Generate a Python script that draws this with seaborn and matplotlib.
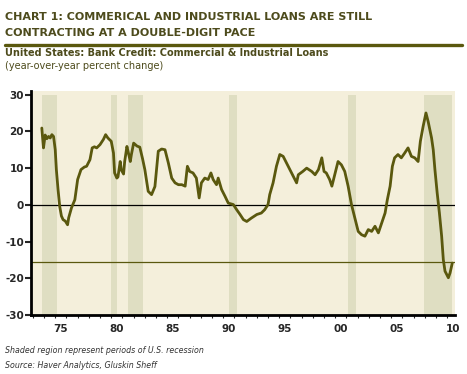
import numpy as np
import pandas as pd
import seaborn as sns
import matplotlib.pyplot as plt
from matplotlib.ticker import FixedLocator, MultipleLocator

# C&I loans, year-over-year % change
years = [1973.8, 1973.95, 1974.1, 1974.25, 1974.4, 1974.55, 1974.7, 1974.85,
         1975.0, 1975.1, 1975.25, 1975.4, 1975.55, 1975.7, 1975.9, 1976.1,
         1976.2, 1976.45, 1976.75, 1977.0, 1977.3, 1977.6, 1977.8, 1978.1,
         1978.3, 1978.5, 1978.7, 1979.0, 1979.3, 1979.5, 1979.7, 1980.0,
         1980.2, 1980.3, 1980.5, 1980.6, 1980.8, 1980.9, 1981.1, 1981.2,
         1981.4, 1981.5, 1981.7, 1981.8, 1982.0, 1982.3, 1982.55, 1982.8,
         1983.0, 1983.3, 1983.6, 1983.9, 1984.2, 1984.5, 1984.8, 1985.1,
         1985.4, 1985.7, 1986.0, 1986.3, 1986.6, 1986.8, 1987.0, 1987.3,
         1987.6, 1987.85, 1988.05, 1988.35, 1988.65, 1988.9, 1989.1, 1989.4,
         1989.55, 1989.85, 1990.15, 1990.45, 1990.9, 1991.2, 1991.5, 1991.8,
         1992.1, 1992.5, 1993.0, 1993.4, 1993.7, 1994.0, 1994.15, 1994.45,
         1994.75, 1995.05, 1995.35, 1995.8, 1996.25, 1996.55, 1996.7, 1997.1,
         1997.45, 1997.9, 1998.2, 1998.5, 1998.8, 1999.0, 1999.2, 1999.5,
         1999.7, 2000.0, 2000.25, 2000.55, 2000.85, 2001.15, 2001.45, 2001.75,
         2002.05, 2002.35, 2002.65, 2002.95, 2003.25, 2003.55, 2003.85, 2004.15,
         2004.45, 2004.65, 2004.9, 2005.1, 2005.3, 2005.6, 2005.9, 2006.2,
         2006.5, 2006.8, 2007.1, 2007.4, 2007.6, 2007.85, 2008.1, 2008.3,
         2008.6, 2008.75, 2008.9, 2009.1, 2009.3, 2009.5, 2009.65, 2009.8,
         2010.1, 2010.25, 2010.45]
yoy = [20.9, 15.5, 19.0, 18.0, 18.6, 18.2, 19.1, 18.6,
       15.0, 9.6, 4.2, -0.4, -3.0, -4.0, -4.4, -5.4,
       -3.5, -0.8, 1.4, 6.9, 9.6, 10.3, 10.5, 12.3,
       15.5, 15.8, 15.5, 16.4, 17.8, 19.1, 18.2, 17.3,
       14.1, 8.7, 7.3, 7.6, 11.8, 9.5, 8.4, 11.8,
       15.9, 14.6, 11.8, 13.7, 16.8, 16.0, 15.7, 12.5,
       9.6, 3.7, 2.8, 5.0, 14.6, 15.2, 15.0, 11.4,
       7.3, 6.0, 5.5, 5.5, 5.1, 10.5, 9.1, 8.7,
       7.3, 1.9, 6.0, 7.3, 6.9, 8.7, 6.9, 5.5,
       7.3, 4.2, 2.4, 0.5, 0.1, -1.3, -2.6, -4.0,
       -4.5, -3.6, -2.6, -2.2, -1.3, 0.1, 2.8, 6.0,
       10.5, 13.7, 13.2, 10.5, 7.8, 6.0, 8.2, 9.1,
       10.0, 9.1, 8.2, 9.6, 12.8, 9.1, 8.7, 6.9,
       5.1, 8.7, 11.8, 10.9, 9.1, 5.1, 0.1, -3.5,
       -7.2, -8.1, -8.5, -6.7, -7.2, -5.8, -7.6, -4.9,
       -2.2, 1.4, 5.1, 10.5, 12.8, 13.7, 12.8, 14.1,
       15.5, 13.2, 12.8, 11.8, 17.3, 21.4, 25.0, 22.6,
       18.2, 15.0, 9.6, 3.3, -2.2, -8.5, -14.9, -18.0,
       -19.8, -18.5, -15.8]

# U.S. recessions (start, end) in decimal years
rec_start = [1973.85, 1980.0, 1981.5, 1990.5, 2001.17, 2007.92]
rec_end = [1975.2, 1980.55, 1982.87, 1991.2, 2001.87, 2010.45]

latest_level = -15.5
tick_years = [1975, 1980, 1985, 1990, 1995, 2000, 2005, 2010]
tick_labels = ['75', '80', '85', '90', '95', '00', '05', '10']

df = pd.DataFrame({'year': years, 'yoy': yoy})

sns.set_style("ticks")
plt.rcParams['font.family'] = ['DejaVu Sans']
plt.rcParams['axes.unicode_minus'] = False

olive = '#5a580e'
title_col = '#4d4b1c'

fig = plt.figure(figsize=(4.67, 3.74), dpi=100)
fig.patch.set_facecolor('white')
ax = fig.add_axes([0.066, 0.157, 0.908, 0.600])
ax.set_facecolor('#f4efdb')

for s, e in zip(rec_start, rec_end):
    ax.fill_between([s, e], -30, 30, color='#dfdec2', lw=0, zorder=0)

ax.axhline(0, color='black', lw=0.9, zorder=1)
ax.axhline(latest_level, color=olive, lw=0.9, zorder=1)

sns.lineplot(data=df, x='year', y='yoy', ax=ax, color=olive, lw=2.0, zorder=3)

ax.set_xlim(1972.82, 2010.68)
ax.set_ylim(-30, 31)
ax.set_xlabel('')
ax.set_ylabel('')

ax.yaxis.set_major_locator(FixedLocator([-30, -20, -10, 0, 10, 20, 30]))
ax.set_yticklabels(['-30', '-20', '-10', '0', '10', '20', '30'],
                   fontsize=7.5, fontweight='bold')
ax.tick_params(axis='y', direction='out', length=4, width=1.5, pad=1)

# year labels sit in the middle of each year, small ticks at year starts
ax.set_xticks([y + 0.5 for y in tick_years])
ax.set_xticklabels(tick_labels, fontsize=7.5, fontweight='bold')
ax.tick_params(axis='x', which='major', length=0, pad=6)
ax.xaxis.set_minor_locator(MultipleLocator(1))
ax.tick_params(axis='x', which='minor', direction='out', length=2.5, width=0.8)

for side in ['top', 'right']:
    ax.spines[side].set_visible(False)
for side in ['left', 'bottom']:
    ax.spines[side].set_linewidth(2)
    ax.spines[side].set_color('black')

# header
fig.text(0.011, 1 - 12 / 374, 'CHART 1: COMMERICAL AND INDUSTRIAL LOANS ARE STILL',
         fontsize=8, fontweight='bold', color=title_col, va='top', ha='left')
fig.text(0.011, 1 - 28 / 374, 'CONTRACTING AT A DOUBLE-DIGIT PACE',
         fontsize=8, fontweight='bold', color=title_col, va='top', ha='left')
fig.add_artist(plt.Line2D([5 / 467, 462 / 467], [1 - 45 / 374, 1 - 45 / 374],
                          color=olive, lw=2.4, transform=fig.transFigure))
fig.text(0.011, 1 - 48 / 374, 'United States: Bank Credit: Commercial & Industrial Loans',
         fontsize=7, fontweight='bold', color=title_col, va='top', ha='left')
fig.text(0.011, 1 - 61 / 374, '(year-over-year percent change)',
         fontsize=7, color=title_col, va='top', ha='left')

# footnotes
fig.text(0.011, 1 - 346 / 374, 'Shaded region represent periods of U.S. recession',
         fontsize=5.7, style='italic', color='#333333', va='top', ha='left')
fig.text(0.011, 1 - 361 / 374, 'Source: Haver Analytics, Gluskin Sheff',
         fontsize=5.7, style='italic', color='#333333', va='top', ha='left')

fig.savefig('out.png', dpi=100)
